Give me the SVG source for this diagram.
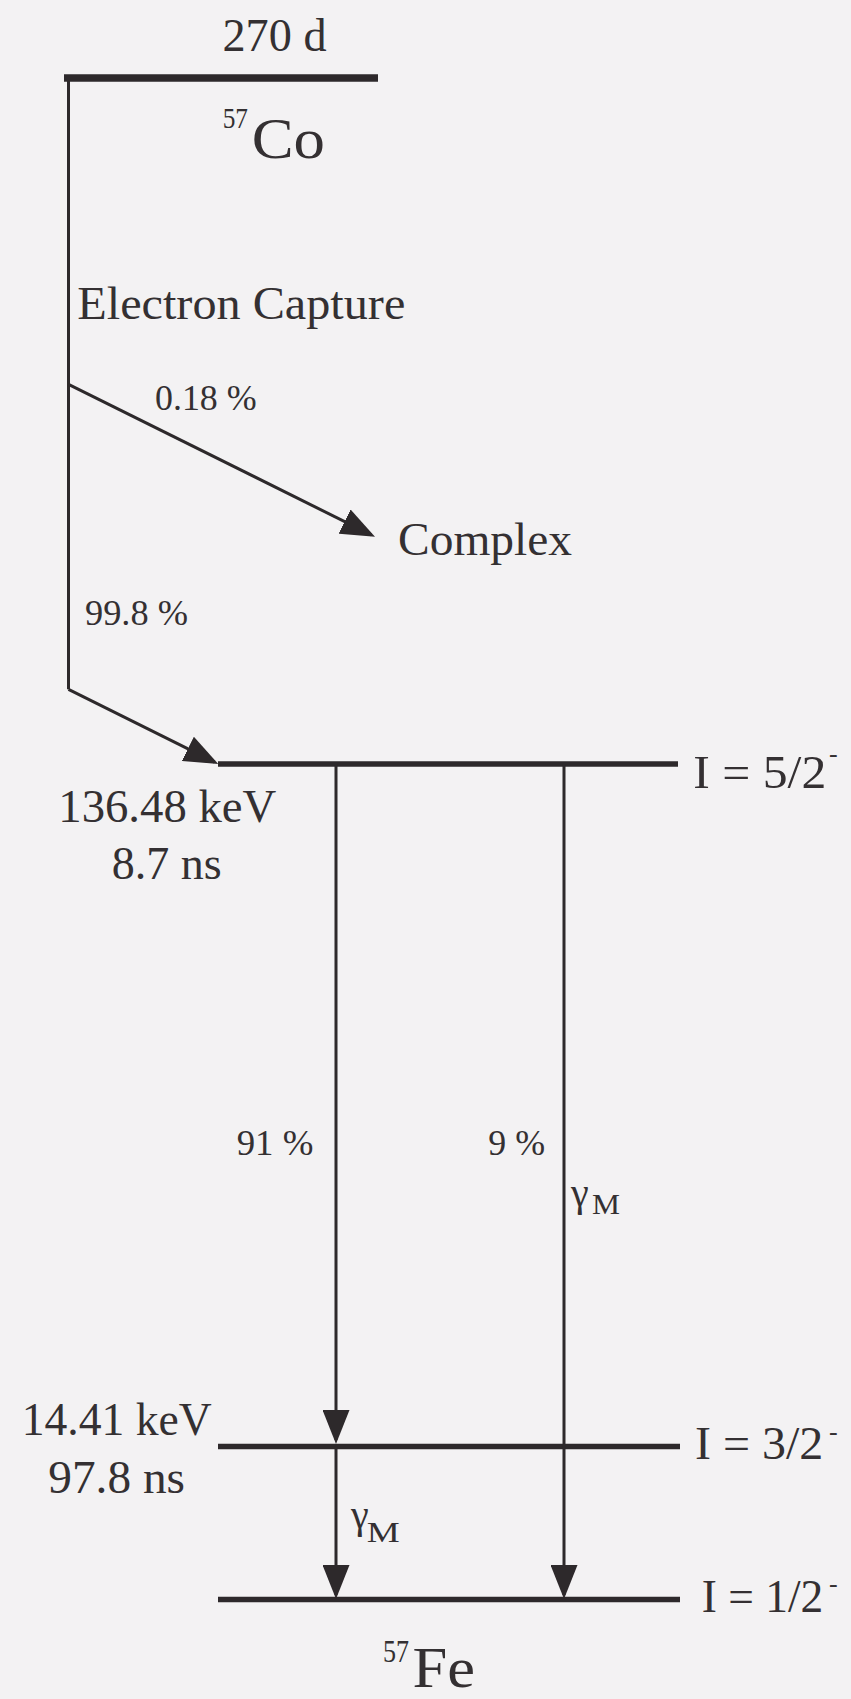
<svg xmlns="http://www.w3.org/2000/svg" width="851" height="1699" viewBox="0 0 851 1699">
<style>
text { font-family: "Liberation Serif", "Times New Roman", serif; fill: #343032; }
.lvl { stroke: #2d292b; stroke-width: 5.5; fill: none; }
.top { stroke: #2d292b; stroke-width: 7.5; fill: none; }
.tr { stroke: #2d292b; stroke-width: 3; fill: none; }
.arr { marker-end: url(#ah); }
</style>
<defs>
<marker id="ah" viewBox="0 0 34 27" refX="30" refY="13.5" markerWidth="34" markerHeight="27" markerUnits="userSpaceOnUse" orient="auto">
<path d="M0,0 L34,13.5 L0,27 Z" fill="#2d292b"/>
</marker>
</defs>
<rect x="0" y="0" width="851" height="1699" fill="#f3f2f3"/>

<g id="co57">
<line class="top" x1="64" y1="78" x2="378" y2="78"/>
<text x="222.5" y="51" font-size="46" textLength="104" lengthAdjust="spacingAndGlyphs">270 d</text>
<text x="222.7" y="128.3" font-size="29" textLength="25.3" lengthAdjust="spacingAndGlyphs">57</text>
<text x="251.7" y="158" font-size="57" textLength="73.3" lengthAdjust="spacingAndGlyphs">Co</text>
</g>

<g id="complex">
<text x="398" y="555" font-size="47" textLength="174" lengthAdjust="spacingAndGlyphs">Complex</text>
</g>

<g id="level-136">
<line class="lvl" x1="218" y1="764" x2="678" y2="764"/>
<text x="58.3" y="821.7" font-size="47" textLength="218" lengthAdjust="spacingAndGlyphs">136.48 keV</text>
<text x="111.7" y="879.3" font-size="47" textLength="110" lengthAdjust="spacingAndGlyphs">8.7 ns</text>
<text x="693.3" y="788" font-size="47" textLength="133" lengthAdjust="spacingAndGlyphs">I = 5/2</text>
<text x="829" y="762" font-size="26">-</text>
</g>

<g id="level-14">
<line class="lvl" x1="218" y1="1446.5" x2="680" y2="1446.5"/>
<text x="21.7" y="1435" font-size="46" textLength="190" lengthAdjust="spacingAndGlyphs">14.41 keV</text>
<text x="48.3" y="1493.3" font-size="46" textLength="136.7" lengthAdjust="spacingAndGlyphs">97.8 ns</text>
<text x="695" y="1459.3" font-size="46" textLength="128.3" lengthAdjust="spacingAndGlyphs">I = 3/2</text>
<text x="829" y="1440" font-size="26">-</text>
</g>

<g id="level-0">
<line class="lvl" x1="218" y1="1599.5" x2="680" y2="1599.5"/>
<text x="701.7" y="1611.7" font-size="46" textLength="121.6" lengthAdjust="spacingAndGlyphs">I = 1/2</text>
<text x="829" y="1592" font-size="26">-</text>
<text x="383" y="1662" font-size="32" textLength="26" lengthAdjust="spacingAndGlyphs">57</text>
<text x="412.5" y="1687" font-size="57" textLength="62.5" lengthAdjust="spacingAndGlyphs">Fe</text>
</g>

<g id="connectors">
<line class="tr" x1="68.5" y1="75" x2="68.5" y2="689.3"/>
<line class="tr arr" x1="68.5" y1="384.3" x2="371.4" y2="534.9"/>
<line class="tr arr" x1="68.5" y1="689.3" x2="214.7" y2="762.2"/>
<line class="tr arr" x1="336" y1="764" x2="336" y2="1440"/>
<line class="tr arr" x1="336" y1="1446" x2="336" y2="1595"/>
<line class="tr arr" x1="564" y1="764" x2="564" y2="1595"/>
<text x="77.3" y="319.3" font-size="47" textLength="328" lengthAdjust="spacingAndGlyphs">Electron Capture</text>
<text x="155" y="410" font-size="36" textLength="101.7" lengthAdjust="spacingAndGlyphs">0.18 %</text>
<text x="85" y="625" font-size="36" textLength="103" lengthAdjust="spacingAndGlyphs">99.8 %</text>
<text x="236.7" y="1155" font-size="36" textLength="76.7" lengthAdjust="spacingAndGlyphs">91 %</text>
<text x="488.3" y="1155" font-size="36" textLength="56.7" lengthAdjust="spacingAndGlyphs">9 %</text>
<text x="571" y="1206" font-size="40">γ</text>
<text x="592" y="1214" font-size="30" textLength="28" lengthAdjust="spacingAndGlyphs">M</text>
<text x="351" y="1528" font-size="40">γ</text>
<text x="366.7" y="1541.7" font-size="30" textLength="33" lengthAdjust="spacingAndGlyphs">M</text>
</g>
</svg>
